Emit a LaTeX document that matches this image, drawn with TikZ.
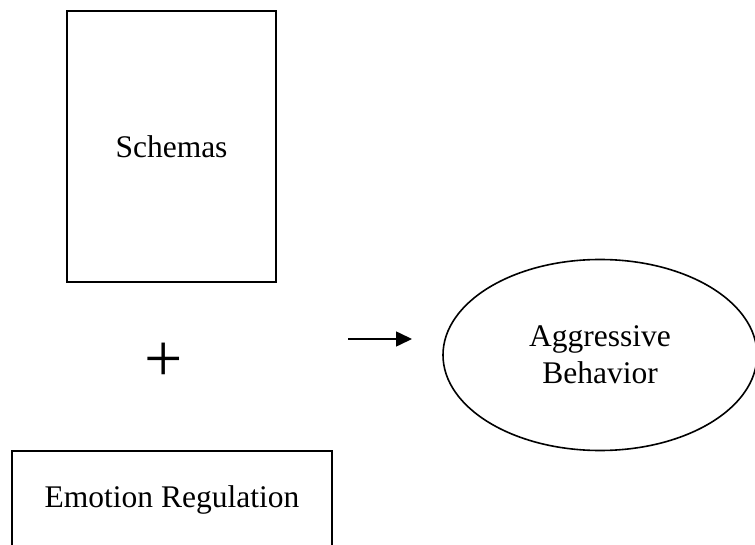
\documentclass[tikz,border=0pt]{standalone}
\usepackage{fontspec}
\setmainfont{Liberation Serif}
\usetikzlibrary{positioning,shapes,arrows.meta}

\tikzset{
	blockbox/.style={rectangle, draw, line width=1.2pt},
}

\begin{document}
\begin{tikzpicture}[x=0.5pt, y=-0.5pt, font=\fontsize{15.75}{18.3}\selectfont]

	\useasboundingbox (0,0) rectangle (755,545);

	\node[blockbox, minimum width=104.5pt, minimum height=135.5pt] (Schemas) at (171.5,146.5) {Schemas};
	\node[blockbox, minimum width=160pt, minimum height=49pt] (Emotion) at (172,500) {Emotion Regulation};
	\node[font=\fontsize{34}{34}\selectfont, inner sep=0pt] (Plus) at (164,362) {+};
	\node[ellipse, draw, line width=0.8pt, minimum width=157pt, minimum height=95.5pt, align=center] (Aggr) at (600,355) {Aggressive\\Behavior};

	\coordinate (A1) at (348,339);
	\coordinate (A2) at (412,339);
	\draw[-{Triangle[length=8pt, width=7.5pt]}, line width=0.8pt] (A1) -- (A2);

\end{tikzpicture}
\end{document}
